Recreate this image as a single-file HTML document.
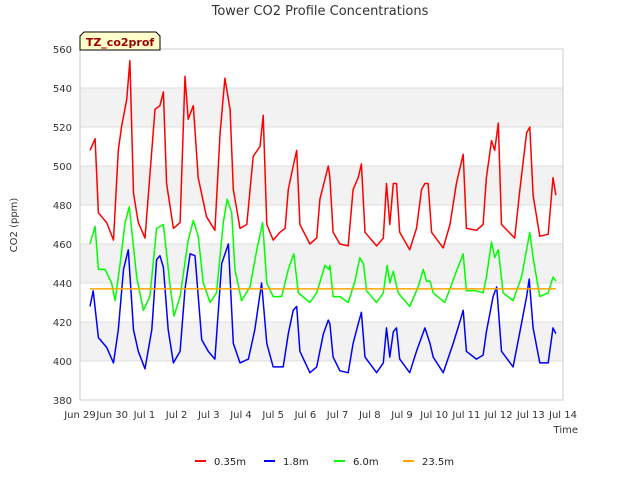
<!DOCTYPE html>
<html><head><meta charset="utf-8"><style>
html,body{margin:0;padding:0;background:#fff;}
svg{display:block;font-family:"DejaVu Sans","Liberation Sans",sans-serif;}
</style></head><body>
<svg id="chart" width="640" height="480" viewBox="0 0 640 480">
<text x="320" y="15" text-anchor="middle" font-size="13" fill="#333">Tower CO2 Profile Concentrations</text>
<g id="bands"></g>
<g id="grid"></g>
<rect x="80" y="49" width="483" height="351" fill="none" stroke="#cccccc"/>
<g id="yticks"></g>
<g id="xticks"></g>
<g id="series"></g>
<text x="17" y="225" transform="rotate(-90 17 225)" text-anchor="middle" font-size="10" fill="#333">CO2 (ppm)</text>
<text x="578" y="433" text-anchor="end" font-size="10" fill="#333">Time</text>
<g>
<path d="M80,50 L80,36 L84,32 L156,32 L160,36 L160,50 Z" fill="#ffffcc" stroke="#000" stroke-width="1"/>
<text x="120" y="46" text-anchor="middle" font-size="11" font-weight="bold" fill="#990000">TZ_co2prof</text>
</g>
<g id="legend"></g>
</svg>
<script>
const yTicks=[380,400,420,440,460,480,500,520,540,560];
const xTickLabels=["Jun 29","Jun 30","Jul 1","Jul 2","Jul 3","Jul 4","Jul 5","Jul 6","Jul 7","Jul 8","Jul 9","Jul 10","Jul 11","Jul 12","Jul 13","Jul 14"];
const redTimes=[0.31,0.47,0.57,0.83,1.04,1.19,1.29,1.45,1.55,1.66,1.81,2.02,2.23,2.33,2.48,2.59,2.69,2.90,3.11,3.26,3.36,3.52,3.67,3.93,4.19,4.35,4.50,4.66,4.76,4.97,5.18,5.38,5.59,5.69,5.80,6.00,6.21,6.37,6.47,6.62,6.73,6.83,7.14,7.35,7.45,7.71,7.76,7.86,8.07,8.33,8.48,8.64,8.74,8.85,9.21,9.42,9.52,9.62,9.73,9.83,9.93,10.24,10.45,10.61,10.71,10.81,10.92,11.28,11.49,11.69,11.90,12.00,12.31,12.52,12.62,12.78,12.88,12.99,13.09,13.50,13.66,13.87,13.97,14.07,14.28,14.54,14.69,14.78];
const redValues=[508,514,476,471,462,508,520,534,554,486,471,463,508,529,531,538,491,468,471,546,524,531,494,474,467,517,545,529,488,468,470,505,510,526,470,462,466,468,488,500,508,470,460,463,483,500,494,466,460,459,488,494,501,466,459,463,491,470,491,491,466,457,468,488,491,491,466,458,470,491,506,468,467,470,494,513,508,522,470,463,488,517,520,485,464,465,494,485];
const blueTimes=[0.31,0.41,0.57,0.83,1.04,1.19,1.35,1.50,1.66,1.81,2.02,2.23,2.38,2.48,2.59,2.74,2.90,3.11,3.26,3.42,3.57,3.78,3.98,4.19,4.40,4.61,4.76,4.97,5.23,5.43,5.64,5.80,6.00,6.31,6.47,6.62,6.73,6.83,7.14,7.35,7.56,7.71,7.76,7.86,8.07,8.33,8.48,8.64,8.74,8.85,9.21,9.42,9.52,9.62,9.73,9.83,9.93,10.24,10.45,10.71,10.87,10.97,11.28,11.59,11.74,11.90,12.00,12.31,12.52,12.62,12.83,12.94,13.09,13.45,13.66,13.87,13.95,14.07,14.28,14.54,14.69,14.78];
const blueValues=[428,436,412,407,399,416,447,457,416,405,396,416,452,454,448,416,399,405,437,455,454,411,405,401,450,460,409,399,401,416,440,409,397,397,414,426,428,405,394,397,414,421,419,402,395,394,409,419,425,402,394,399,417,402,415,417,401,394,405,417,409,402,394,409,417,426,405,401,403,415,433,438,405,397,415,433,442,417,399,399,417,414];
const greenTimes=[0.31,0.47,0.57,0.78,0.98,1.09,1.24,1.40,1.53,1.76,1.97,2.17,2.38,2.59,2.79,2.92,3.11,3.36,3.52,3.67,3.83,4.04,4.24,4.45,4.57,4.71,4.81,5.02,5.28,5.49,5.67,5.80,6.00,6.26,6.47,6.64,6.78,7.14,7.35,7.61,7.74,7.76,7.86,8.07,8.33,8.54,8.69,8.80,8.90,9.21,9.42,9.54,9.62,9.73,9.88,10.24,10.50,10.66,10.76,10.87,10.97,11.33,11.69,11.90,12.00,12.31,12.52,12.62,12.78,12.88,12.99,13.14,13.45,13.71,13.97,14.07,14.28,14.54,14.69,14.78];
const greenValues=[460,469,447,447,440,431,449,471,479,443,426,433,468,470,440,423,433,462,472,464,440,430,435,471,483,476,447,431,438,457,471,440,433,433,447,455,435,430,435,449,447,449,433,433,430,441,453,450,436,430,435,449,440,446,435,428,438,447,441,441,435,430,446,455,436,436,435,443,461,453,457,435,431,443,466,453,433,435,443,441];
const orangeTimes=[0.31,14.78];
const orangeValues=[437,437];
const seriesNames=["0.35m","1.8m","6.0m","23.5m"];

const NS="http://www.w3.org/2000/svg";
const X0=80,X1=563,Y0=400,Y1=49,TMIN=0,TMAX=15,VMIN=380,VMAX=560;
function xs(t){return X0+(t-TMIN)/(TMAX-TMIN)*(X1-X0);}
function ys(v){return Y0-(v-VMIN)/(VMAX-VMIN)*(Y0-Y1);}
function mk(tag,attrs,parent){const e=document.createElementNS(NS,tag);for(const k in attrs)e.setAttribute(k,attrs[k]);parent.appendChild(e);return e;}

const bands=document.getElementById('bands');
for(let i=0;i<yTicks.length-1;i++){
  if(i%2===1){
    const r=mk('rect',{x:X0,y:ys(yTicks[i+1]),width:X1-X0,height:ys(yTicks[i])-ys(yTicks[i+1]),fill:'#f2f2f2'},bands);
    
    
  }
}
const grid=document.getElementById('grid');
const yt=document.getElementById('yticks');
yTicks.forEach(v=>{
  const l=mk('line',{x1:X0,x2:X1,y1:ys(v),y2:ys(v),stroke:'#dddddd'},grid);
  
  
  const t=mk('text',{x:X0-8,y:ys(v)+4,'text-anchor':'end','font-size':'10',fill:'#333'},yt);
  t.textContent=v;
  
  
});
const xt=document.getElementById('xticks');
xTickLabels.forEach((s,i)=>{
  const t=mk('text',{x:xs(i),y:418,'text-anchor':'middle','font-size':'10',fill:'#333'},xt);
  t.textContent=s;
  
  
});
const ser=document.getElementById('series');
const defs=[[redTimes,redValues,'#ff0000'],[blueTimes,blueValues,'#0000ff'],[greenTimes,greenValues,'#00ff00'],[orangeTimes,orangeValues,'#ffa500']];
defs.forEach((d,k)=>{
  const pts=d[0].map((t,i)=>xs(t).toFixed(1)+','+ys(d[1][i]).toFixed(1)).join(' ');
  const p=mk('polyline',{points:pts,fill:'none',stroke:d[2],'stroke-width':'1.5','stroke-linejoin':'round'},ser);
  
  
});
const lg=document.getElementById('legend');
const lx=[195,264,334,403];
seriesNames.forEach((s,i)=>{
  const l=mk('line',{x1:lx[i],x2:lx[i]+11,y1:461,y2:461,stroke:defs[i][2],'stroke-width':'2'},lg);
  
  
  const t=mk('text',{x:lx[i]+19,y:465,'font-size':'10',fill:'#222'},lg);
  t.textContent=s;
  
  
});
</script>
</body></html>
